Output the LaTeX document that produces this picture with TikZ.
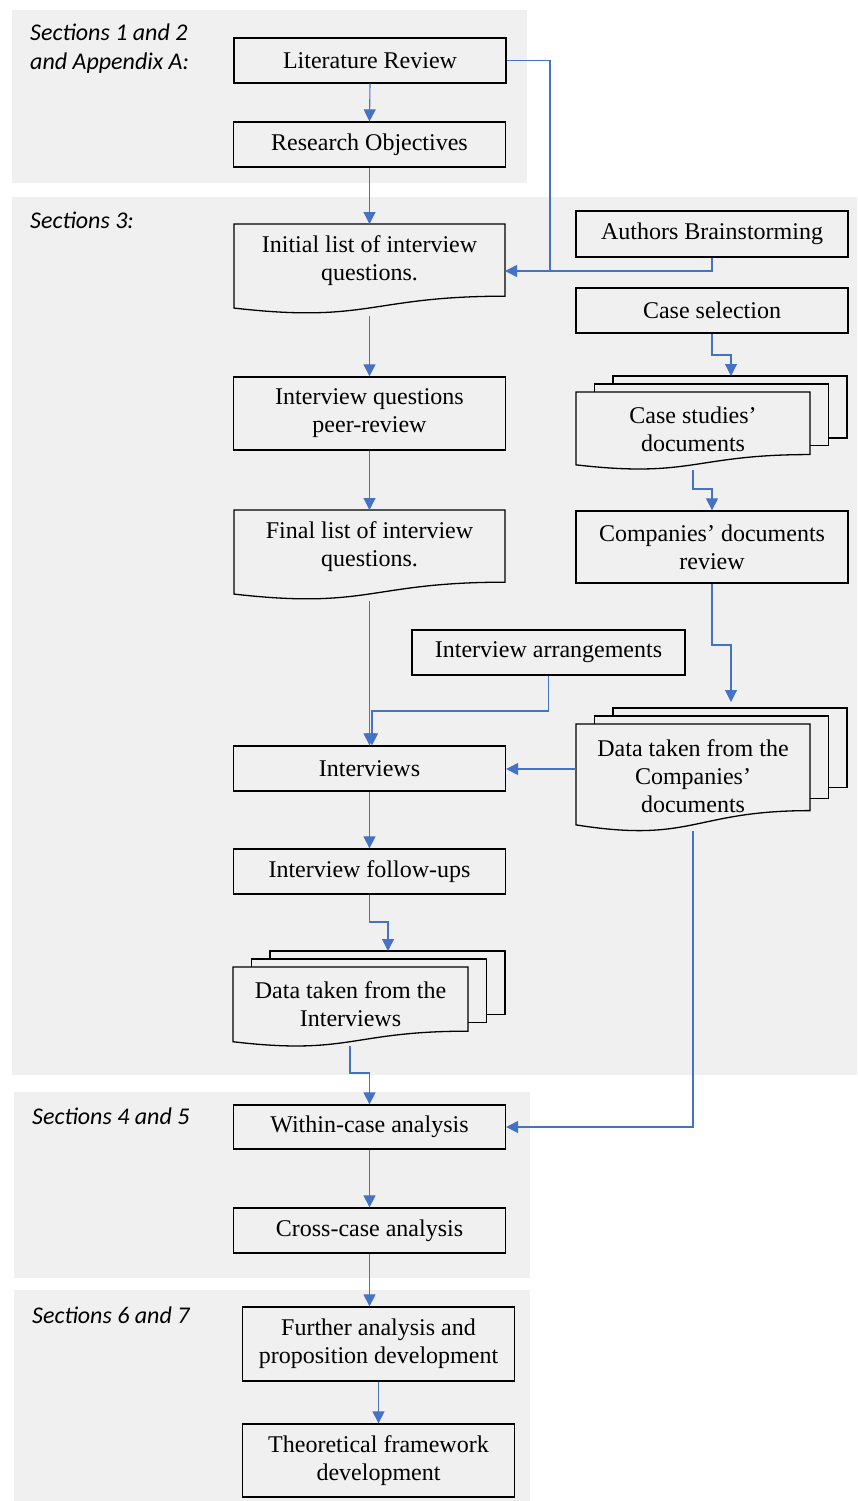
\documentclass[tikz,border=0pt]{standalone}
\usepackage{fontspec}
\setmainfont{Liberation Serif}
\newfontfamily\secfont{Carlito}
\usetikzlibrary{arrows.meta,calc}
\definecolor{panel}{RGB}{240,240,240}
\definecolor{arrowblue}{RGB}{68,114,196}
\tikzset{
  box/.style={draw, line width=1.3pt, fill=panel, minimum width=272pt, minimum height=45pt,
    align=center, inner sep=2pt, font=\fontsize{24}{28}\selectfont},
  doctext/.style={align=center, inner sep=0pt, font=\fontsize{24}{28}\selectfont},
  docline/.style={draw, line width=1.3pt, fill=panel},
  flow/.style={draw=arrowblue, line width=1.1pt, -{Triangle[length=12pt,width=12pt]}},
  link/.style={draw=arrowblue, line width=1.1pt},
  sec/.style={font=\secfont\itshape\fontsize{24}{29}\selectfont, anchor=base west, inner sep=0pt, align=left}
}
\newcommand{\docshape}[4]{%
  \path[docline] (#1,#2) -- (#3,#2) -- (#3,{#2+0.802*#4})
    .. controls ({(#1+#3)/2},{#2+0.802*#4}) and ({(#1+#3)/2},{#2+1.107*#4}) .. (#1,{#2+0.934*#4}) -- cycle;}
\newcommand{\multidoc}[4]{%
  \path[docline] ({#1+37},{#2-16}) rectangle ({#3+37},{#2+0.59*#4});
  \path[docline] ({#1+18.5},{#2-8}) rectangle ({#3+18.5},{#2+0.69*#4});
  \docshape{#1}{#2}{#3}{#4}}
\begin{document}
\begin{tikzpicture}[x=1pt,y=-1pt]
\useasboundingbox (0,0) rectangle (857,1501);
% panels
\fill[panel] (12,10) rectangle (527,183);
\fill[panel] (12,197) rectangle (857,1075);
\fill[panel] (14,1092) rectangle (530,1278);
\fill[panel] (14,1290) rectangle (530,1501);
% section labels
\node[sec] (s12) at (30,70) {Sections 1 and 2\\and Appendix A:};
\node[sec] (s3) at (30,228) {Sections 3:};
\node[sec] (s45) at (32,1124) {Sections 4 and 5};
\node[sec] (s67) at (32,1323) {Sections 6 and 7};
% document shapes
\docshape{234}{224}{505}{90}
\docshape{234}{510}{505}{90}
\multidoc{576}{392}{810}{78}
\multidoc{576}{724}{810}{108}
\multidoc{233}{967}{468}{80}
% nodes
\node[box] (lit) at (370,60.5) {Literature Review};
\node[box] (res) at (369.5,144.5) {Research Objectives};
\node[doctext] (init) at (369.5,261) {Initial list of interview\\questions.};
\node[box, minimum height=46pt] (auth) at (712,234) {Authors Brainstorming};
\node[box] (cs) at (712,310.5) {Case selection};
\node[doctext] (csd) at (693,429) {Case studies'\\documents};
\node[box, minimum height=73pt] (peer) at (369.5,413.5) {Interview questions\\peer-review};
\node[doctext] (final) at (369.5,547) {Final list of interview\\questions.};
\node[box, minimum height=72pt] (cdr) at (712,547) {Companies' documents\\review};
\node[box, minimum width=273pt] (arr) at (548.5,652.5) {Interview arrangements};
\node[box] (intv) at (369.5,768.5) {Interviews};
\node[doctext] (dc) at (693,776) {Data taken from the\\Companies'\\documents};
\node[box] (fu) at (369.5,871.5) {Interview follow-ups};
\node[doctext] (di) at (350.5,1004) {Data taken from the\\Interviews};
\node[box, minimum height=44pt] (within) at (369.5,1127) {Within-case analysis};
\node[box] (cross) at (369.5,1230.5) {Cross-case analysis};
\node[box, minimum height=74pt] (further) at (378.5,1344) {Further analysis and\\proposition development};
\node[box, minimum height=73pt] (theo) at (378.5,1460.5) {Theoretical framework\\development};
% connector coordinates
\coordinate (initR) at (505,271);
\coordinate (j1) at (550,271);
\coordinate (initB) at (369.5,316);
\coordinate (finalB) at (369.5,601);
\coordinate (j2) at (372,711);
\coordinate (j3) at (712,355);
\coordinate (csdT) at (731,376);
\coordinate (csdB) at (693,470);
\coordinate (j4) at (693,489);
\coordinate (j5) at (712,645);
\coordinate (dcT) at (731,702);
\coordinate (dcL) at (576,769);
\coordinate (dcB) at (693,831);
\coordinate (j6) at (369.5,922);
\coordinate (diT) at (388,951);
\coordinate (diB) at (350,1046);
\coordinate (j7) at (350,1073);
% connectors
\draw[flow] (lit.south) -- (res.north);
\draw[link] (lit.east) -| (j1);
\draw[link] (auth.south) |- (j1);
\draw[flow] (j1) -- (initR);
\draw[flow] (res.south) -- (init.north |- 0,224);
\draw[flow] (initB) -- (peer.north);
\draw[flow] (peer.south) -- (final.north |- 0,510);
\draw[flow] (finalB) -- (intv.north);
\draw[flow] (arr.south) |- (j2) -- (j2 |- intv.north);
\draw[flow] (cs.south) -- (j3) -| (csdT);
\draw[flow] (csdB) -- (j4) -| (cdr.north);
\draw[flow] (cdr.south) -- (j5) -| (dcT);
\draw[flow] (dcL) -- (dcL -| intv.east);
\draw[flow] (dcB) |- (within.east);
\draw[flow] (intv.south) -- (fu.north);
\draw[flow] (fu.south) -- (j6) -| (diT);
\draw[flow] (diB) -- (j7) -| (within.north);
\draw[flow] (within.south) -- (cross.north);
\draw[flow] (cross.south) -- (cross.south |- further.north);
\draw[flow] (further.south) -- (theo.north);
\end{tikzpicture}
\end{document}
